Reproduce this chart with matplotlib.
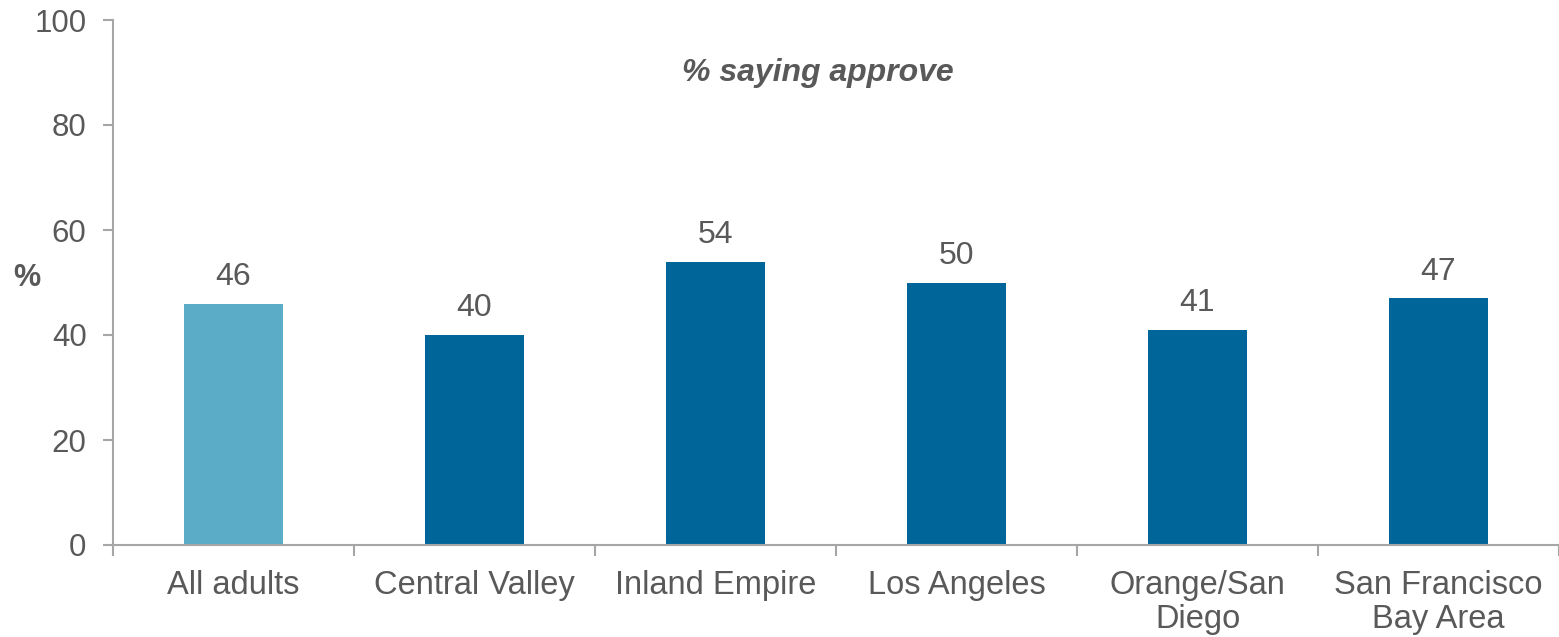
import numpy as np
import matplotlib.pyplot as plt

plt.rcParams['font.family'] = ['Liberation Sans', 'DejaVu Sans']

categories = ['All adults', 'Central Valley', 'Inland Empire', 'Los Angeles',
              'Orange/San\nDiego', 'San Francisco\nBay Area']
approve = [46, 40, 54, 50, 41, 47]
yticks = [0, 20, 40, 60, 80, 100]

text_color = '#595959'
axis_color = '#A6A6A6'
colors = ['#5BACC6'] + ['#006699'] * (len(categories) - 1)

fig = plt.figure(figsize=(15.59, 6.37), dpi=100)
ax = fig.add_axes([113 / 1559, 92 / 637, 1 - 113 / 1559, 525 / 637])

x = np.arange(len(categories))
ax.bar(x, approve, width=0.41, color=colors, zorder=2)
for xi, v in zip(x, approve):
    ax.text(xi, v + 2.2, str(v), ha='center', va='bottom',
            fontsize=23, color=text_color)

ax.set_xlim(-0.5, len(categories) - 0.5)
ax.set_ylim(0, 100)
ax.set_yticks(yticks)
ax.set_xticks(x)
ax.set_xticklabels(categories, fontsize=23.5, color=text_color, linespacing=1.12)
ax.set_xticks(np.arange(len(categories) + 1) - 0.5, minor=True)
ax.tick_params(axis='x', which='major', length=0, pad=18)
ax.tick_params(axis='x', which='minor', length=8, width=1.5,
               color=axis_color, direction='out')
ax.tick_params(axis='y', length=7, width=1.5, color=axis_color,
               labelsize=22.5, labelcolor=text_color, pad=12)

for s in ['top', 'right']:
    ax.spines[s].set_visible(False)
for s in ['left', 'bottom']:
    ax.spines[s].set_color(axis_color)
    ax.spines[s].set_linewidth(1.5)

ax.text(0.4876, 0.90, '% saying approve', transform=ax.transAxes,
        ha='center', va='center', fontsize=23, fontweight='bold',
        fontstyle='italic', color=text_color)
fig.text(27 / 1559, 1 - 278 / 637, '%', ha='center', va='center',
         fontsize=22, fontweight='bold', color=text_color)

fig.savefig('out.png', dpi=100)
